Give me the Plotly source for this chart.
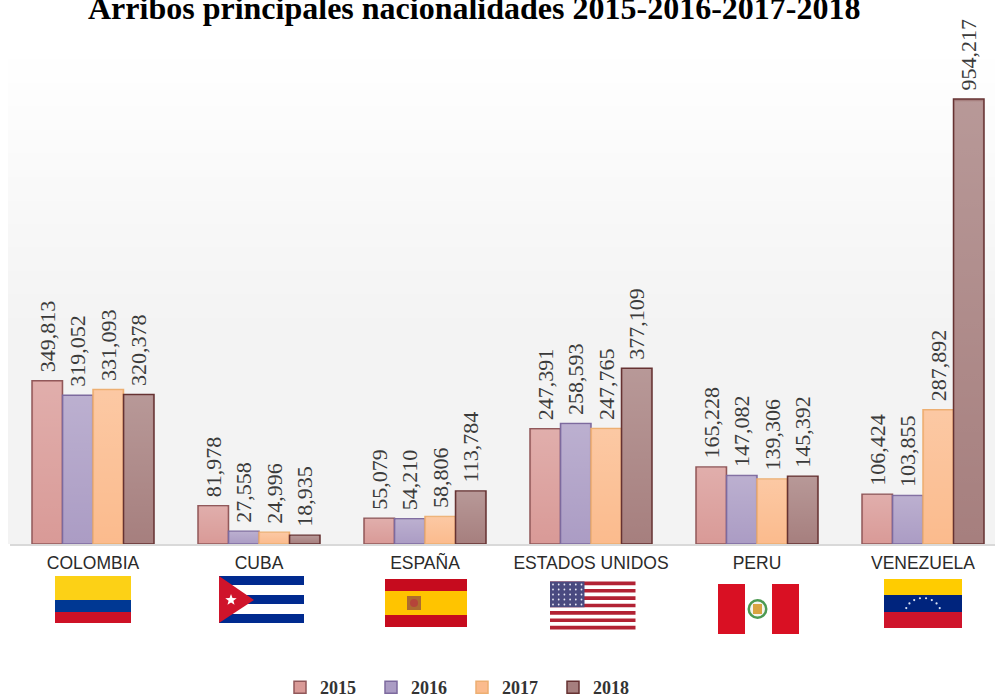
import math
import plotly.graph_objects as go

countries = ["COLOMBIA", "CUBA", "ESPAÑA", "ESTADOS UNIDOS", "PERU", "VENEZUELA"]
years = ["2015", "2016", "2017", "2018"]
v2015 = [349813, 81978, 55079, 247391, 165228, 106424]
v2016 = [319052, 27558, 54210, 258593, 147082, 103855]
v2017 = [331093, 24996, 58806, 247765, 139306, 287892]
v2018 = [320378, 18935, 113784, 377109, 145392, 954217]
series = [v2015, v2016, v2017, v2018]
fills = ["#d99a97", "#ab9cc4", "#fbbb8d", "#a67f7e"]
edges = ["#91585a", "#7d6a9e", "#edaf72", "#663232"]
title = "Arribos principales nacionalidades 2015-2016-2017-2018"

W, H = 995, 712
LEFT, BASE = 10, 544
PX_PER_CAT = 166
PX_PER_UNIT = 445 / 954217
x_range = [-0.5, (W - LEFT) / PX_PER_CAT - 0.5]
y_range = [0, BASE / PX_PER_UNIT]
BARGAP = 0.265
BW = (1 - BARGAP) / 4


def px(x):
    return (x - LEFT) / (W - LEFT)


def py(y):
    return (BASE - y) / BASE


def rect(x0, y0, x1, y1, color, layer="above"):
    return dict(type="rect", xref="paper", yref="paper", x0=px(x0), x1=px(x1), y0=py(y0), y1=py(y1),
                fillcolor=color, line=dict(width=0), layer=layer)


def poly(points, color):
    path = "M" + "L".join(f"{px(a):.5f},{py(b):.5f}" for a, b in points) + "Z"
    return dict(type="path", xref="paper", yref="paper", path=path, fillcolor=color, line=dict(width=0), layer="above")


def circle(cx, cy, r, color):
    return dict(type="circle", xref="paper", yref="paper", x0=px(cx - r), x1=px(cx + r), y0=py(cy + r), y1=py(cy - r),
                fillcolor=color, line=dict(width=0), layer="above")


def star(cx, cy, r, color):
    pts = []
    for i in range(10):
        rr = r if i % 2 == 0 else r * 0.42
        a = -math.pi / 2 + i * math.pi / 5
        pts.append((cx + rr * math.cos(a), cy + rr * math.sin(a)))
    return poly(pts, color)


shapes = []
# soft plot background, white at top to pale grey
steps = 24
y_top, y_end = 47, 330
for i in range(steps):
    t = i / (steps - 1)
    c = round(255 - 12 * t)
    y0 = y_top + (y_end - y_top) * i / steps
    shapes.append(rect(8, y0, W, BASE, f"rgb({c},{c},{c})", layer="below"))

# flags
shapes += [rect(55, 576, 131, 600, "#fcd116"), rect(55, 600, 131, 612, "#003893"), rect(55, 612, 131, 623, "#ce1126")]
shapes += [rect(219, 576, 304, 585, "#002a8f"), rect(219, 595, 304, 604, "#002a8f"), rect(219, 614, 304, 623, "#002a8f"),
           poly([(219, 576), (254, 600), (219, 623)], "#cf142b"), star(231, 600, 6, "#ffffff")]
shapes += [rect(385, 579, 467, 591, "#c60b1e"), rect(385, 591, 467, 615, "#ffc400"), rect(385, 615, 467, 627, "#c60b1e"),
           rect(407, 596, 421, 610, "#ad6b2f"), circle(414, 603, 4, "#b5443a")]
us_h = (629.5 - 581.5) / 13
for i in range(0, 13, 2):
    shapes.append(rect(550, 581.5 + i * us_h, 635.5, 581.5 + (i + 1) * us_h, "#b22234"))
shapes.append(rect(550, 581.5, 584.5, 581.5 + 7 * us_h, "#4a4a80"))
for r_ in range(5):
    for c_ in range(6):
        shapes.append(circle(553 + c_ * 5.7, 584.5 + r_ * 5, 0.9, "#e8e8f4"))
shapes += [rect(718, 584, 745, 634, "#d91023"), rect(772, 584, 799, 634, "#d91023"),
           circle(757.5, 609, 10, "#4c9a52"), circle(757.5, 609, 7.5, "#f4f4ee"), rect(753, 604, 762, 614, "#d9a441")]
shapes += [rect(884, 579, 962, 595, "#ffcc00"), rect(884, 595, 962, 612, "#00247d"), rect(884, 612, 962, 628, "#cf142b")]
for i in range(8):
    a = math.pi * (1.12 + i * 0.76 / 7)
    shapes.append(circle(923 + 18 * math.cos(a), 614 + 16 * math.sin(a), 1.1, "#dfe6f5"))

fig = go.Figure()
for k, year in enumerate(years):
    fig.add_trace(go.Bar(
        name=year, x=list(range(len(countries))), y=series[k],
        text=["\u00a0" + f"{v:,}" for v in series[k]],
        textposition="outside", textangle=-90, constraintext="none", cliponaxis=False,
        textfont=dict(family="Liberation Serif", size=22, color="#3a3a3a"),
        marker=dict(color=fills[k], line=dict(color=edges[k], width=1.5)),
    ))

# light sheen over each bar, fading downward
for k in range(4):
    for i, v in enumerate(series[k]):
        cx = i + (k - 1.5) * BW
        hw = BW / 2 * 0.92
        top = v * 0.995
        fig.add_trace(go.Scatter(
            x=[cx - hw, cx + hw, cx + hw, cx - hw, cx - hw], y=[0, 0, top, top, 0],
            mode="lines", line=dict(width=0), fill="toself", showlegend=False, hoverinfo="skip",
            fillgradient=dict(type="vertical", start=0, stop=max(top, 1),
                              colorscale=[[0, "rgba(255,255,255,0)"], [1, "rgba(255,255,255,0.2)"]]),
        ))

fig.update_layout(
    width=W, height=H, autosize=False,
    margin=dict(l=LEFT, r=0, t=0, b=H - BASE, pad=0),
    paper_bgcolor="white", plot_bgcolor="rgba(0,0,0,0)",
    barmode="group", bargap=BARGAP, bargroupgap=0,
    shapes=shapes,
    xaxis=dict(range=x_range, tickmode="array", tickvals=list(range(len(countries))), ticktext=countries,
               showgrid=False, zeroline=False, showline=True, linecolor="#d9d9d9", linewidth=1.5,
               ticks="", ticklabelstandoff=2, tickangle=0,
               tickfont=dict(family="Liberation Sans", size=17.5, color="#2a2a2a")),
    yaxis=dict(range=y_range, visible=False),
    showlegend=True,
    legend=dict(orientation="h", x=px(280), xanchor="left", y=py(706), yanchor="bottom",
                entrywidth=46, entrywidthmode="pixels", traceorder="normal",
                font=dict(family="Liberation Serif", size=18, color="#333333", weight="bold"), bgcolor="rgba(0,0,0,0)"),
    annotations=[dict(text=f"<b>{title}</b>", xref="paper", yref="paper", x=px(474), y=py(17),
                      xanchor="center", yanchor="bottom", yshift=-11, showarrow=False,
                      font=dict(family="Liberation Serif", size=32, color="#000000"))],
)
fig.write_html("out.html", config=dict(displayModeBar=False),
               post_script="document.body.style.margin='0';document.documentElement.style.overflow='hidden';")
